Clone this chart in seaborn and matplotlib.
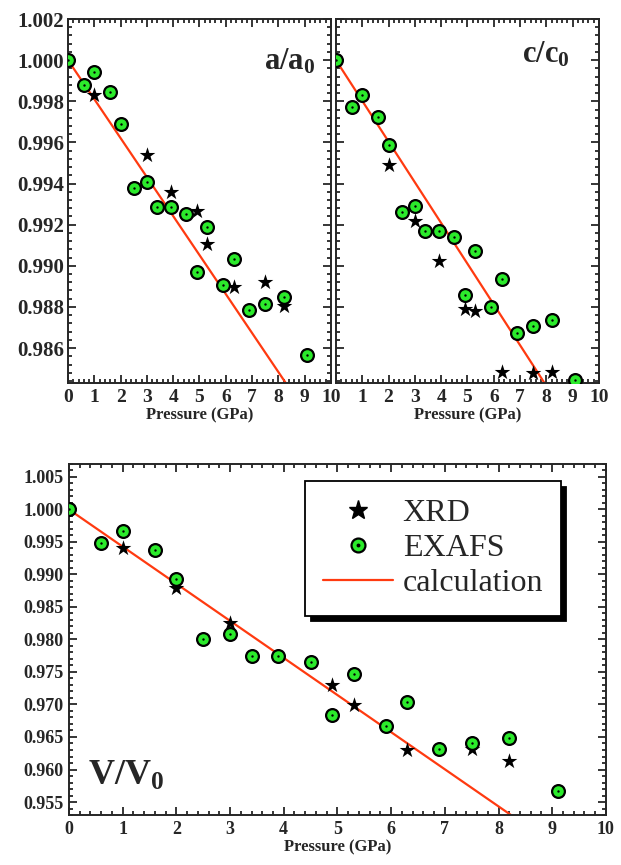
import matplotlib
matplotlib.use("Agg")
import matplotlib.pyplot as plt
from matplotlib.ticker import MultipleLocator, FormatStrFormatter, FuncFormatter
from matplotlib.lines import Line2D
from matplotlib.legend_handler import HandlerTuple
import seaborn as sns

# pressures (GPa)
exafs_p = [0, 0.6, 1.0, 1.6, 2.0, 2.5, 3.0, 3.4, 3.9, 4.5, 4.9, 5.3, 5.9, 6.3, 6.9, 7.5, 8.2, 9.1]
calc_p = [0, 9.5]

# a/a0
a_exafs = [1.0, 0.9988, 0.9994, 0.99845, 0.9969, 0.99376, 0.99407, 0.99285, 0.99285,
           0.99254, 0.98971, 0.9919, 0.98909, 0.99035, 0.98787, 0.98816, 0.98847, 0.98568]
a_xrd_p = [1.0, 3.0, 3.9, 4.9, 5.3, 6.3, 7.5, 8.2]
a_xrd = [0.99832, 0.9954, 0.9936, 0.99265, 0.99105, 0.98895, 0.98922, 0.98805]
a_calc = [1.0, 0.98199]

# c/c0
c_exafs = [1.0, 0.99771, 0.99832, 0.99726, 0.99587, 0.99262, 0.99293, 0.99167, 0.99167,
           0.99138, 0.9886, 0.99074, 0.98798, 0.98935, 0.98674, 0.98707, 0.98735, 0.98444]
c_xrd_p = [2.0, 3.0, 3.9, 4.9, 5.3, 6.3, 7.5, 8.2]
c_xrd = [0.99491, 0.99216, 0.99024, 0.98788, 0.9878, 0.98485, 0.98477, 0.98485]
c_calc = [1.0, 0.98119]

# V/V0
v_exafs = [1.0, 0.99477, 0.99667, 0.99374, 0.98938, 0.9801, 0.98092, 0.97744, 0.97744,
           0.97651, 0.96841, 0.97467, 0.96667, 0.97031, 0.96308, 0.964, 0.96492, 0.95672]
v_xrd_p = [1.0, 2.0, 3.0, 4.9, 5.3, 6.3, 7.5, 8.2]
v_xrd = [0.99415, 0.98785, 0.98256, 0.97297, 0.96985, 0.96297, 0.96323, 0.96128]
v_calc = [1.0, 0.94576]

GREEN = "#2bea2b"
RED = "#ff3a10"

sns.set_theme(style="ticks")
plt.rcParams["font.family"] = ["Liberation Serif", "DejaVu Serif"]
plt.rcParams["font.weight"] = "bold"
plt.rcParams["mathtext.fontset"] = "custom"
plt.rcParams["mathtext.rm"] = "Liberation Serif:bold"
plt.rcParams["mathtext.bf"] = "Liberation Serif:bold"
plt.rcParams["axes.linewidth"] = 1.4


def draw_panel(ax, xrd_p, xrd, exafs, calc):
    sns.lineplot(x=calc_p, y=calc, color=RED, linewidth=1.6, ax=ax, zorder=2)
    sns.scatterplot(x=xrd_p, y=xrd, marker="*", color="black", s=140, linewidth=0, ax=ax, zorder=3)
    sns.scatterplot(x=exafs_p, y=exafs, marker="o", color=GREEN, edgecolor="black",
                    linewidth=1.6, s=85, ax=ax, zorder=4)
    sns.scatterplot(x=exafs_p, y=exafs, marker="o", color="black", s=3, linewidth=0, ax=ax, zorder=5)
    ax.set_xlim(0, 10)
    ax.xaxis.set_major_locator(MultipleLocator(1))
    ax.xaxis.set_minor_locator(MultipleLocator(0.2))
    ax.tick_params(which="both", direction="in", top=True, right=True, width=1.3)
    ax.tick_params(which="major", length=6)
    ax.tick_params(which="minor", length=3)
    ax.set_xlabel("Pressure (GPa)", fontsize=12, fontweight="bold", labelpad=1)
    ax.set_ylabel("")


fig = plt.figure(figsize=(6.21, 8.65), dpi=100)

ax1 = fig.add_axes([0.1095, 0.5572, 0.4235, 0.4208])
ax2 = fig.add_axes([0.541, 0.5572, 0.4235, 0.4208])
ax3 = fig.add_axes([0.111, 0.0578, 0.8647, 0.4058])

draw_panel(ax1, a_xrd_p, a_xrd, a_exafs, a_calc)
draw_panel(ax2, c_xrd_p, c_xrd, c_exafs, c_calc)
draw_panel(ax3, v_xrd_p, v_xrd, v_exafs, v_calc)

for ax in (ax1, ax2):
    ax.set_ylim(0.9843, 1.002)
    ax.yaxis.set_major_locator(MultipleLocator(0.002))
    ax.yaxis.set_minor_locator(MultipleLocator(0.0004))
    ax.yaxis.set_major_formatter(FormatStrFormatter("%.3f"))
    ax.tick_params(axis="x", labelsize=14, pad=4)
    ax.tick_params(axis="y", labelsize=15, pad=3)
ax2.tick_params(axis="y", labelleft=False)
# the left panel's "10" sits on the right panel's "0"
ax2.xaxis.set_major_formatter(FuncFormatter(lambda v, pos: "" if abs(v) < 1e-9 else f"{v:.0f}"))

ax3.set_ylim(0.953, 1.007)
ax3.yaxis.set_major_locator(MultipleLocator(0.005))
ax3.yaxis.set_minor_locator(MultipleLocator(0.001))
ax3.yaxis.set_major_formatter(FormatStrFormatter("%.3f"))
ax3.tick_params(axis="both", labelsize=13, pad=4)

ax1.text(0.94, 0.86, r"$\mathbf{a/a_0}$", transform=ax1.transAxes, fontsize=22,
         ha="right", va="baseline")
ax2.text(0.89, 0.88, r"$\mathbf{c/c_0}$", transform=ax2.transAxes, fontsize=22,
         ha="right", va="baseline")
ax3.text(0.035, 0.085, r"$\mathbf{V/V_0}$", transform=ax3.transAxes, fontsize=26,
         ha="left", va="baseline")

star_h = Line2D([], [], marker="*", color="black", markersize=14, linestyle="none")
circ_h = Line2D([], [], marker="o", markerfacecolor=GREEN, markeredgecolor="black",
                markeredgewidth=1.6, markersize=10, linestyle="none")
dot_h = Line2D([], [], marker="o", color="black", markersize=1.8, linestyle="none")
line_h = Line2D([], [], color=RED, linewidth=1.6)
leg = ax3.legend([star_h, (circ_h, dot_h), line_h], ["XRD", "EXAFS", "calculation"],
                 handler_map={tuple: HandlerTuple(ndivide=1, pad=0)},
                 loc="upper left", bbox_to_anchor=(0.44, 0.951), borderaxespad=0,
                 prop={"family": "Liberation Serif", "weight": "normal", "size": 23},
                 frameon=True, fancybox=False, edgecolor="black", framealpha=1,
                 handlelength=2.2, handletextpad=0.3, labelspacing=0.18,
                 borderpad=0.55,
                 shadow={"ox": 4, "oy": -4, "facecolor": "black",
                         "edgecolor": "black", "alpha": 1.0})
leg.get_frame().set_linewidth(1.3)

fig.savefig("out.png", dpi=100)
